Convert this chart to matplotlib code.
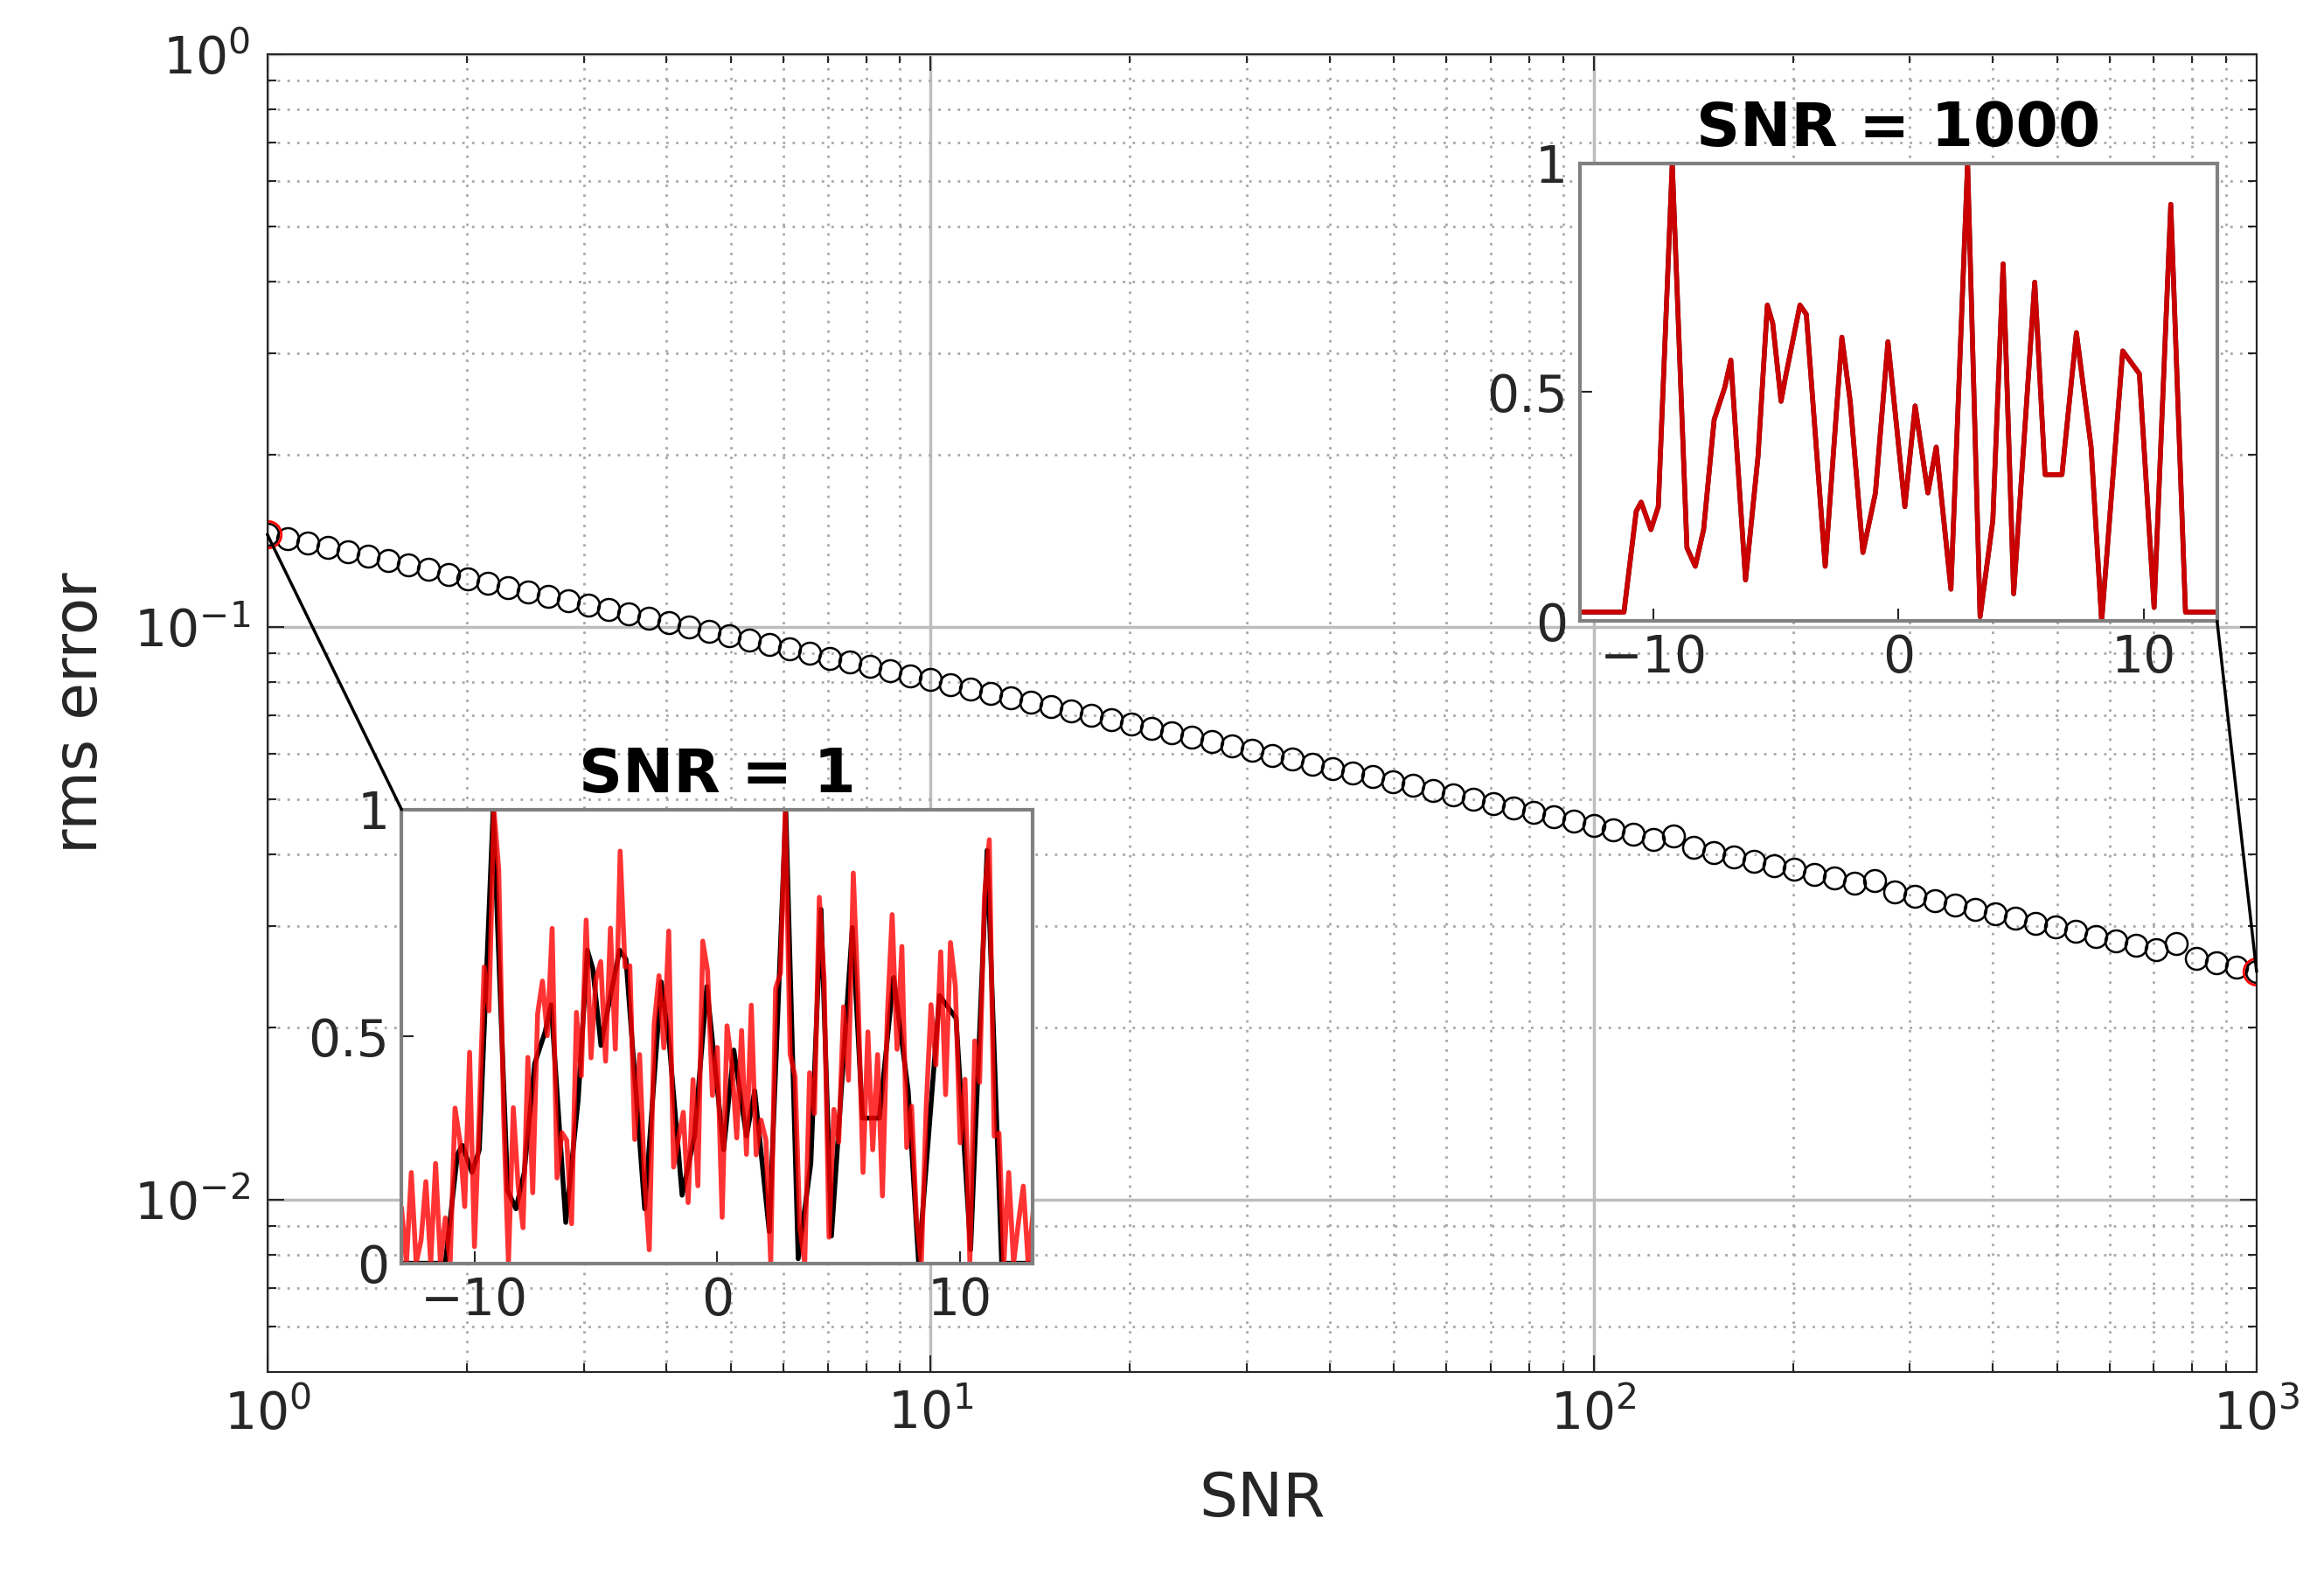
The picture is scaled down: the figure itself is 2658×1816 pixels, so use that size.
import numpy as np
import matplotlib
matplotlib.use('Agg')
import matplotlib.pyplot as plt
from matplotlib.patches import ConnectionPatch

# rms error vs SNR (100 log-spaced SNR values from 1 to 1000)
snr = np.logspace(0, 3, 100)
rms = [0.145, 0.1425, 0.1400, 0.1375, 0.1351, 0.1327, 0.1304, 0.1281, 0.1258, 0.1236,
       0.1214, 0.1193, 0.1172, 0.1151, 0.1131, 0.1111, 0.1092, 0.1072, 0.1054, 0.1035,
       0.1017, 0.0999, 0.0981, 0.0964, 0.0947, 0.0931, 0.0914, 0.0898, 0.0882, 0.0867,
       0.0852, 0.0837, 0.0822, 0.0808, 0.0793, 0.0779, 0.0766, 0.0752, 0.0739, 0.0726,
       0.0713, 0.0701, 0.0688, 0.0676, 0.0664, 0.0653, 0.0641, 0.0630, 0.0619, 0.0608,
       0.0597, 0.0587, 0.0576, 0.0566, 0.0556, 0.0547, 0.0537, 0.0528, 0.0518, 0.0509,
       0.0500, 0.0491, 0.0483, 0.0474, 0.0466, 0.0458, 0.0450, 0.0442, 0.0434, 0.0426,
       0.0432, 0.0412, 0.0404, 0.0397, 0.0390, 0.0383, 0.0377, 0.0370, 0.0364, 0.0357,
       0.0360, 0.0345, 0.0339, 0.0333, 0.0327, 0.0321, 0.0315, 0.0310, 0.0304, 0.0299,
       0.0294, 0.0288, 0.0283, 0.0278, 0.0273, 0.0280, 0.0264, 0.0259, 0.0255, 0.0250]

# clean signal
sig_x = [-12.9, -11.2, -10.7, -10.5, -10.1, -9.8, -9.23, -8.63, -8.29, -7.95, -7.52,
         -7.09, -6.84, -6.24, -5.73, -5.35, -5.13, -4.79, -4.62, -4.02, -3.76, -2.99,
         -2.31, -1.97, -1.45, -0.94, -0.43, 0.26, 0.68, 1.2, 1.54, 2.14, 2.82, 3.33,
         3.85, 4.27, 4.7, 5.56, 5.98, 6.67, 7.26, 7.86, 8.29, 9.15, 9.83, 10.43, 11.11,
         11.71, 12.9]
sig_y = [0.02, 0.02, 0.24, 0.26, 0.2, 0.25, 1.0, 0.16, 0.12, 0.2, 0.44, 0.51, 0.57,
         0.09, 0.36, 0.69, 0.65, 0.48, 0.53, 0.69, 0.67, 0.12, 0.62, 0.48, 0.15, 0.28,
         0.61, 0.25, 0.47, 0.28, 0.38, 0.07, 1.0, 0.01, 0.22, 0.78, 0.06, 0.74, 0.32,
         0.32, 0.63, 0.38, 0.0, 0.59, 0.54, 0.03, 0.91, 0.02, 0.02]
sig1_y = [0.0, 0.0] + sig_y[2:-2] + [0.0, 0.0]

# noise of the SNR = 1 reconstruction, read roughly
noise = [0.12, -0.08, 0.2, -0.15, 0.05, 0.18, -0.1, 0.22, -0.05, 0.1, -0.2, 0.15, 0.02,
         -0.12, 0.25, -0.18, 0.08, 0.14, -0.22, 0.06, 0.19, -0.07, -0.16, 0.21, 0.03,
         -0.11, 0.17, -0.24, 0.09, 0.13, -0.03, 0.2, -0.19, 0.07, 0.16, -0.13, 0.23,
         -0.06, 0.11, -0.21, 0.04, 0.18, -0.09, 0.15, -0.17, 0.22, -0.02, 0.1, -0.14,
         0.19, 0.06, -0.23, 0.12, 0.08, -0.1, 0.24, -0.16, 0.03, 0.17, -0.08, 0.14, -0.2,
         0.21, 0.05, -0.12, 0.09, -0.18, 0.2, 0.01, -0.15, 0.16, -0.04, 0.23, -0.11,
         0.07, 0.13, -0.22, 0.18, -0.06, 0.1, -0.19, 0.15, 0.04, -0.14, 0.22, -0.09,
         0.12, 0.06, -0.17, 0.2, -0.03, 0.11, -0.21, 0.16, 0.08, -0.12, 0.19, -0.07,
         0.14, -0.24, 0.05, 0.17, -0.1, 0.21, -0.15, 0.09, 0.02, -0.18, 0.13, 0.22,
         -0.05, 0.1, -0.2, 0.15, 0.07, -0.13, 0.18, -0.08, 0.24, -0.11, 0.04, 0.16,
         -0.19, 0.12, -0.02, 0.2, -0.14, 0.09, 0.17, -0.06, 0.11]

FS = 42
fig = plt.figure(figsize=(26.58, 18.16), dpi=100)
ax = fig.add_axes([0.115, 0.136, 0.856, 0.830])
ax.set_xscale('log')
ax.set_yscale('log')
ax.set_xlim(1, 1000)
ax.set_ylim(0.005, 1)
ax.grid(True, which='major', color='#bdbdbd', lw=2.5)
ax.grid(True, which='minor', color='#a8a8a8', lw=2, ls=(0, (1, 3)))
ax.tick_params(which='both', direction='in', top=True, right=True,
               labelsize=FS, colors='#262626', width=1.5, pad=14)
ax.tick_params(which='major', length=14)
ax.tick_params(which='minor', length=7)
for s in ax.spines.values():
    s.set_color('#262626')
    s.set_linewidth(1.5)
ax.set_xlabel('SNR', fontsize=50, color='#262626', labelpad=25)
ax.set_ylabel('rms error', fontsize=50, color='#262626', labelpad=20)
ax.plot(snr, rms, 'o', mfc='none', mec='black', ms=18, mew=1.8)
ax.plot([snr[0], snr[-1]], [rms[0], rms[-1]], 'o', mfc='none', mec='red', ms=22, mew=2)


def make_inset(rect, title, black_y, red_x, red_y):
    ins = fig.add_axes(rect)
    ins.plot(sig_x, black_y, color='black', lw=4)
    ins.plot(red_x, red_y, color='red', lw=4, alpha=0.8)
    ins.set_xlim(-13, 13)
    ins.set_ylim(0, 1)
    ins.set_xticks([-10, 0, 10])
    ins.set_yticks([0, 0.5, 1])
    ins.set_yticklabels(['0', '0.5', '1'])
    ins.tick_params(direction='in', labelsize=FS, colors='#262626', length=10,
                    width=1.5, pad=10)
    for s in ins.spines.values():
        s.set_color('#808080')
        s.set_linewidth(3)
    ins.set_title(title, fontsize=50, fontweight='bold', pad=14)
    return ins


nx = np.linspace(-13, 13, len(noise))
red1 = np.clip(np.interp(nx, sig_x, sig1_y) + np.array(noise), 0, 1)
ins1 = make_inset([0.1728, 0.2045, 0.2717, 0.2857], 'SNR = 1', sig1_y, nx, red1)
ins2 = make_inset([0.6798, 0.6088, 0.2742, 0.2885], 'SNR = 1000', sig_y, sig_x, sig_y)

con1 = ConnectionPatch(xyA=(snr[0], rms[0]), coordsA=ax.transData,
                       xyB=(0, 1), coordsB=ins1.transAxes, color='black', lw=2.5)
con2 = ConnectionPatch(xyA=(snr[-1], rms[-1]), coordsA=ax.transData,
                       xyB=(1, 0), coordsB=ins2.transAxes, color='black', lw=2.5)
fig.add_artist(con1)
fig.add_artist(con2)

fig.savefig('out.png', dpi=100)
